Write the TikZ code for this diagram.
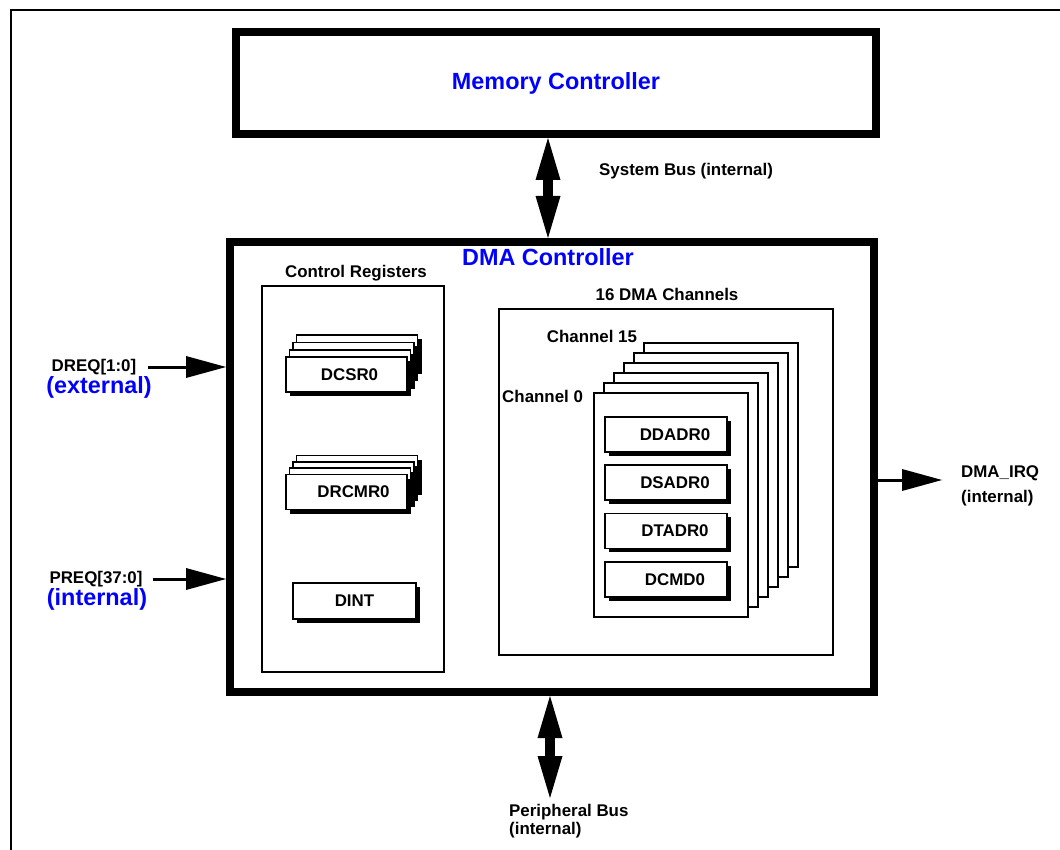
\documentclass[tikz,border=0pt]{standalone}
\usepackage{fontspec}
\setmainfont{Liberation Sans}
\usetikzlibrary{arrows.meta,shadows}

\tikzset{
  lbl/.style={font=\fontsize{16.9}{19}\selectfont\bfseries, inner sep=1pt},
  title/.style={font=\fontsize{23.4}{26}\selectfont\bfseries, text=blue, inner sep=1pt},
  bigbox/.style={draw, line width=8pt},
  thinbox/.style={draw, line width=1.8pt},
  chanbox/.style={draw, fill=white, line width=1.6pt, minimum width=154pt, minimum height=224pt},
  regbox/.style={draw, fill=white, line width=1.6pt, minimum width=121pt, minimum height=35pt, lbl,
    general shadow={fill=black, shadow xshift=4pt, shadow yshift=-4pt}},
  busarrow/.style={{Triangle[length=42pt,width=25pt,line width=0pt]}-{Triangle[length=42pt,width=25pt,line width=0pt]}, line width=10pt},
  sigarrow/.style={-{Triangle[length=40pt,width=22pt,line width=0pt]}, line width=3pt}
}

\begin{document}
\begin{tikzpicture}[x=1pt,y=-1pt]
    \useasboundingbox (0,0) rectangle (1060,850);
    % frame
    \draw[line width=2pt] (1060,10) -- (11,10) -- (11,850);

    % Memory and DMA controller
    \node[bigbox, title, minimum width=640pt, minimum height=102pt] (mem) at (556,83) {Memory Controller};
    \node[bigbox, minimum width=644pt, minimum height=450pt] (dma) at (552,467) {};
    \node[title] (dmalbl) at (548,257) {DMA Controller};

    % buses
    \draw[busarrow] ([xshift=-8pt]mem.south) -- ([xshift=-4pt]dma.north);
    \node[lbl, anchor=west] (sysbus) at (598,171) {System Bus (internal)};
    \coordinate (pbend) at (550,798);
    \draw[busarrow] ([xshift=-2pt]dma.south) -- (pbend);
    \node[lbl, align=left, anchor=north west] (pbus) at (508,803) {Peripheral Bus\\[-1pt](internal)};

    % request lines
    \node[lbl] (dreq) at (94,367) {DREQ[1:0]};
    \node[title] (dreqx) at (99,387) {(external)};
    \draw[sigarrow] ([xshift=11pt]dreq.east) -- (dreq.east -| dma.west);
    \node[lbl] (preq) at (96,579) {PREQ[37:0]};
    \node[title] (preqx) at (97,599) {(internal)};
    \draw[sigarrow] ([xshift=9pt]preq.east) -- (preq.east -| dma.west);

    % interrupt
    \coordinate (irqend) at (942,480);
    \draw[sigarrow] (dma.east |- irqend) -- (irqend);
    \node[lbl, align=left, anchor=west] (irq) at (960,486) {DMA\_IRQ\\[6pt](internal)};

    % control registers
    \node[thinbox, minimum width=182pt, minimum height=386pt] (ctrl) at (353,479) {};
    \node[lbl] (ctrllbl) at (356,273) {Control Registers};
    \foreach \i in {3,2,1}
        \node[regbox] (dcsr\i) at (346.5+3.5*\i, 374.5-7.3*\i) {};
    \node[regbox] (dcsr) at (346.5,374.5) {\hspace*{6pt}DCSR0};
    \foreach \i in {3,2,1}
        \node[regbox] (drcmr\i) at (346.5+3.5*\i, 492-6.3*\i) {};
    \node[regbox] (drcmr) at (346.5,492) {\hspace*{14pt}DRCMR0};
    \node[regbox, minimum width=123pt, minimum height=36pt] (dint) at (354.5,601) {DINT};

    % DMA channels
    \node[thinbox, minimum width=334pt, minimum height=346pt] (chans) at (666,482) {};
    \node[lbl] (chanslbl) at (667,294) {16 DMA Channels};
    \foreach \i in {5,...,1}
        \node[chanbox] (ch\i) at (671+10*\i, 505-10*\i) {};
    \node[chanbox] (ch0) at (671,505) {};
    \node[lbl, anchor=base east] (ch15lbl) at ([xshift=-5pt]ch5.north west) {Channel 15};
    \node[lbl, anchor=base east] (ch0lbl) at ([xshift=-9pt,yshift=-10pt]ch0.north west) {Channel 0};
    \foreach \name [count=\i] in {DDADR0,DSADR0,DTADR0,DCMD0}
        \node[regbox, minimum width=122pt] (reg\i) at (666,386+48.3*\i) {\hspace*{18pt}\name};
\end{tikzpicture}
\end{document}
